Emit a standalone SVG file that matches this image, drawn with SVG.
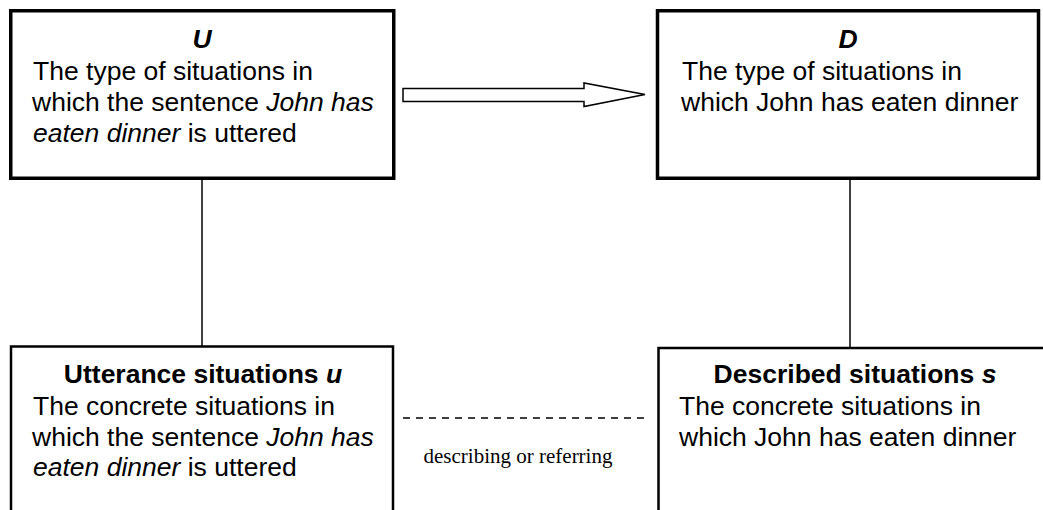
<svg xmlns="http://www.w3.org/2000/svg" width="1043" height="510" viewBox="0 0 1043 510">
  <style>
    .box { fill: #ffffff; stroke: #000000; }
    .top { stroke-width: 3.5; }
    .bottom { stroke-width: 2.5; }
    .title { font-family: "Liberation Sans", Arial, sans-serif; font-size: 26.5px; font-weight: bold; fill: #000000; text-anchor: middle; }
    .body { font-family: "Liberation Sans", Arial, sans-serif; font-size: 26.5px; fill: #000000; }
    .it { font-style: italic; }
    .link { stroke: #000000; stroke-width: 1.5; fill: none; }
    .note { font-family: "Liberation Serif", "Times New Roman", serif; font-size: 21px; fill: #000000; text-anchor: middle; }
  </style>
  <rect width="1043" height="510" fill="#ffffff"/>

  <g id="connectors">
    <line class="link" x1="202" y1="180" x2="202" y2="346"/>
    <line class="link" x1="850" y1="180" x2="850" y2="347"/>
    <polygon class="link" fill="#ffffff" points="403,88.5 584,88.5 584,83 645,94.5 584,106.5 584,101.5 403,101.5"/>
    <line class="link" x1="403" y1="418" x2="645" y2="418" stroke-dasharray="7,6"/>
    <text class="note" x="518" y="463">describing or referring</text>
  </g>

  <g id="node-U">
    <rect class="box top" x="10.75" y="10.75" width="383" height="167.5"/>
    <text class="title" x="202" y="47.5"><tspan class="it">U</tspan></text>
    <text class="body" x="33" y="80">The type of situations in</text>
    <text class="body" x="32" y="110.5">which the sentence <tspan class="it">John has</tspan></text>
    <text class="body" x="33" y="141.5"><tspan class="it">eaten dinner</tspan> is uttered</text>
  </g>

  <g id="node-D">
    <rect class="box top" x="657.5" y="10.75" width="381" height="167.5"/>
    <text class="title" x="848" y="47.5"><tspan class="it">D</tspan></text>
    <text class="body" x="682" y="80">The type of situations in</text>
    <text class="body" x="681" y="110.5">which John has eaten dinner</text>
  </g>

  <g id="node-u">
    <rect class="box bottom" x="11" y="346.5" width="382" height="200"/>
    <text class="title" x="203" y="383">Utterance situations <tspan class="it">u</tspan></text>
    <text class="body" x="33" y="415">The concrete situations in</text>
    <text class="body" x="32" y="445.5">which the sentence <tspan class="it">John has</tspan></text>
    <text class="body" x="33" y="476"><tspan class="it">eaten dinner</tspan> is uttered</text>
  </g>

  <g id="node-s">
    <rect class="box bottom" x="658.5" y="348" width="400" height="200"/>
    <text class="title" x="855" y="383">Described situations <tspan class="it">s</tspan></text>
    <text class="body" x="679" y="415">The concrete situations in</text>
    <text class="body" x="679" y="445.5">which John has eaten dinner</text>
  </g>
</svg>
